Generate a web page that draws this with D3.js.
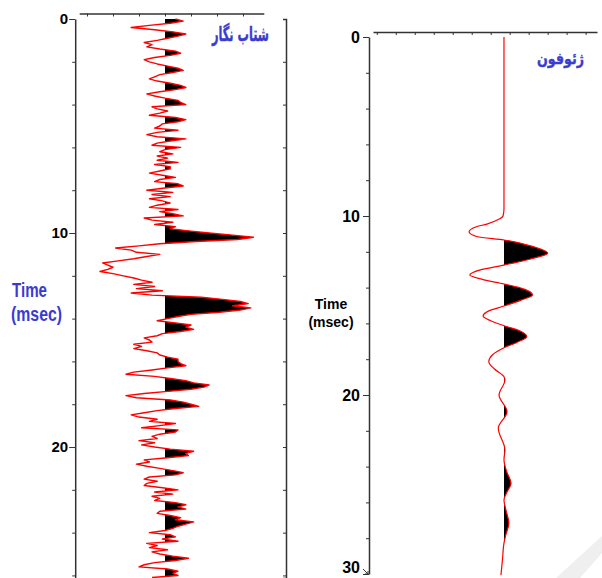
<!DOCTYPE html>
<html>
<head>
<meta charset="utf-8">
<script src="https://cdn.jsdelivr.net/npm/d3@7"></script>
<style>
    body { margin: 0; background: #fff; }
    #chart { width: 602px; height: 578px; }
</style>
</head>
<body>
<div id="chart"></div>
<script>
// accelerograph record: one sample every 0.1 msec, amplitude in counts (10 counts = one tick)
const accStep = 0.1;
const accAmp = [
    4, 7, 2, -6, -13, -4, 3, 8, 5, 1,
    -3, -8, -5, -7, -2, 4, 6, 2, -4, -8,
    -6, -3, 1, 5, 7, 3, -2, -4, -6, -3,
    2, 6, 8, 4, -2, -7, -4, 0, 5, 6,
    8, -5, -3, 1, -2, -6, 4, 8, 5, -1,
    -2, -4, 5, -3, -7, -3, 8, 2, -3, -5,
    6, 0, -2, 3, -3, 1, -3, 5, -4, 2,
    2, -2, -6, -1, 4, -2, -4, 5, 7, 0,
    -7, 3, -5, 2, -6, -1, 2, -3, -6, 5,
    -2, 3, 7, -8, -5, 3, -4, 4, 2, 9,
    17, 26, 34, 28, 12, -2, -10, -19, -13, -11,
    -2, -7, -12, -18, -24, -22, -20, -22, -25, -20,
    -16, -12, -9, -5, -12, -4, -11, -1, -13, -5,
    14, 22, 29, 32, 26, 33, 29, 21, 10, 5,
    1, -3, 4, 10, 8, 11, 6, -1, -3, -8,
    -6, -5, -12, -9, -12, -7, -3, -2, 1, 5,
    5, 6, 8, 1, -5, -12, -15, -4, 2, 8,
    11, 17, 15, 10, 1, -8, -15, -11, 2, 7,
    10, 13, 4, -3, -8, -13, -10, -3, -6, 4,
    -2, -9, 5, 4, -2, -5, -3, -10, -4, -9,
    -4, 2, 11, 8, 9, 1, -8, -6, -11, -7,
    -2, 3, 7, 4, -6, -8, -3, -7, -8, -1,
    5, -4, 3, -5, -2, -4, 4, 8, 5, 8,
    -2, -3, 2, 6, 4, 11, 8, 5, 3, 0,
    -6, 2, 4, -1, 5, -7, -3, -6, 1, -5,
    -2, 3, 9, 4, -4, -8, -10, 1, 5, 3,
    5, -5
];

// geophone record (msec, counts)
const geoTime = [0, 9.6, 10.0, 10.2, 10.45, 10.6, 10.88, 11.16, 11.34, 11.7, 12.08, 12.4, 12.74,
    13.0, 13.3, 13.55, 13.8, 14.1, 14.41, 14.7, 15.03, 15.3, 15.59, 15.85, 16.13, 16.45, 16.74,
    17.05, 17.36, 17.75, 18.14, 18.55, 18.98, 19.16, 20.0, 20.93, 21.86, 23.07, 23.6, 24.3,
    24.93, 25.5, 25.87, 26.5, 27.17, 27.8, 28.28, 29.2, 30.06];
const geoAmp = [0, 0, -0.5, -3, -9, -14.5, -18.4, -14, 0, 15, 23, 14, 0,
    -12, -18, -11, 0, 11, 15, 9, 0, -8, -11, -7, 0, 9, 12,
    7, 0, -6, -8, -5, 0, 0.5, -2.6, 1.6, -3, 0.5, 0, 1.5,
    3.7, 1.2, 0, 1.2, 2.6, 1, 0, -0.8, -1.6];

const accLabels = [0, 10, 20];
const geoLabels = [0, 10, 20, 30];
const accTitle = "شتاب نگار";
const geoTitle = "ژئوفون";
const axisTitle = ["Time", "(msec)"];

const svg = d3.select("#chart").append("svg")
    .attr("width", 602)
    .attr("height", 578);

// faint grey watermark corner from the scanned figure
svg.append("polygon")
    .attr("points", "556,578 602,536 602,553 580,578")
    .attr("fill", "#efefef");

class TraceVis {
    constructor(svg, config, data) {
        this.svg = svg;
        this.config = config;
        this.data = data;

        this.initVis();
    }

    initVis() {
        let vis = this;
        let c = vis.config;

        vis.g = vis.svg.append("g");

        vis.y = d3.scaleLinear().domain(c.timeDomain).range(c.yRange);
        vis.x = d3.scaleLinear().domain(c.ampDomain).range(c.xRange);
        vis.x0 = Math.round(vis.x(0));

        // time axis, labels only on the major ticks
        vis.yAxis = d3.axisLeft(vis.y)
            .tickValues(d3.range(0, c.timeDomain[1] + 0.01, 2))
            .tickSize(3)
            .tickSizeOuter(0)
            .tickPadding(c.labelPad)
            .tickFormat(d => c.labels.includes(d) ? d : "");

        vis.yAxisG = vis.g.append("g")
            .attr("transform", `translate(${c.xRange[0] - c.axisGap}, 0)`)
            .style("color", "#333")
            .call(vis.yAxis)
            .attr("font-family", "'Liberation Sans', Arial, sans-serif")
            .attr("font-size", c.labelSize)
            .attr("font-weight", "bold");
        vis.yAxisG.select(".domain").attr("stroke-width", 1.5);
        vis.yAxisG.selectAll(".tick text")
            .attr("fill", "#000")
            .attr("dy", d => d === c.timeDomain[1] ? "-0.1em" : "0.32em");
        vis.yAxisG.selectAll(".tick")
            .filter(d => c.labels.includes(d))
            .select("line")
            .attr("x2", -6);

        // amplitude axis along the top
        vis.xAxis = d3.axisBottom(vis.x)
            .tickValues(c.ampTicks)
            .tickSize(3)
            .tickSizeOuter(0)
            .tickFormat("");
        vis.xAxisG = vis.g.append("g")
            .attr("transform", `translate(0, ${c.topY})`)
            .style("color", "#333")
            .call(vis.xAxis);
        vis.xAxisG.select(".domain").attr("stroke-width", 1.5);

        // the positive half of the trace is filled black
        vis.clipId = "clip-" + c.name;
        vis.g.append("clipPath")
            .attr("id", vis.clipId)
            .append("rect")
            .attr("x", vis.x0)
            .attr("y", 0)
            .attr("width", c.xRange[1] - vis.x0)
            .attr("height", 578);

        vis.area = d3.area()
            .curve(c.curve)
            .y(d => vis.y(d.t))
            .x0(vis.x0)
            .x1(d => vis.x(d.a));

        vis.line = d3.line()
            .curve(c.curve)
            .x(d => vis.x(d.a))
            .y(d => vis.y(d.t));

        vis.g.append("path")
            .datum(vis.data)
            .attr("clip-path", `url(#${vis.clipId})`)
            .attr("fill", "#000")
            .attr("d", vis.area);

        vis.g.append("path")
            .datum(vis.data)
            .attr("fill", "none")
            .attr("stroke", "#ff0000")
            .attr("stroke-width", c.strokeWidth)
            .attr("stroke-linejoin", "round")
            .attr("d", vis.line);

        vis.g.append("text")
            .attr("x", c.titlePos[0] - c.titleWidth)
            .attr("y", c.titlePos[1])
            .attr("textLength", c.titleWidth)
            .attr("lengthAdjust", "spacingAndGlyphs")
            .attr("font-family", "'DejaVu Sans', sans-serif")
            .attr("font-weight", "bold")
            .attr("font-size", c.titleSize)
            .attr("fill", "#3b3bd0")
            .attr("stroke", "#3b3bd0")
            .attr("stroke-width", 0.4)
            .text(c.title);
    }
}

// left panel: accelerograph
let accVis = new TraceVis(svg, {
    name: "acc",
    timeDomain: [0, 26.12],
    yRange: [19, 578],
    ampDomain: [-33, 38],
    xRange: [79.2, 263.8],
    ampTicks: d3.range(-30, 31, 10),
    axisGap: 4,
    topY: 13.5,
    labels: accLabels,
    labelSize: 15,
    labelPad: 4,
    curve: d3.curveLinear,
    strokeWidth: 1.4,
    title: accTitle,
    titlePos: [269, 41],
    titleWidth: 57,
    titleSize: 20
}, accAmp.map((a, i) => ({t: i * accStep, a: a})));

// right-hand frame of the left panel
svg.append("g")
    .attr("transform", "translate(286, 0)")
    .style("color", "#333")
    .call(d3.axisLeft(accVis.y).tickValues(d3.range(0, 27, 2)).tickSize(3).tickSizeOuter(3).tickFormat(""))
    .select(".domain").attr("stroke-width", 1.5);

// right panel: geophone
let geoVis = new TraceVis(svg, {
    name: "geo",
    timeDomain: [0, 30],
    yRange: [37, 574],
    ampDomain: [-69, 49],
    xRange: [373, 597],
    ampTicks: d3.range(-67, 49, 10),
    axisGap: 4,
    topY: 32,
    labels: geoLabels,
    labelSize: 16,
    labelPad: 6,
    curve: d3.curveMonotoneY,
    strokeWidth: 1.2,
    title: geoTitle,
    titlePos: [584, 64],
    titleWidth: 47,
    titleSize: 16
}, geoTime.map((t, i) => ({t: t, a: geoAmp[i]})));

// small arrow head at the bottom of the geophone time axis
let arrowY = geoVis.y(30);
svg.append("path")
    .attr("d", `M${363},${arrowY - 5}L${368},${arrowY}M${368},${arrowY}l-3,0M${368},${arrowY}l0,-3`)
    .attr("stroke", "#333")
    .attr("stroke-width", 1)
    .attr("fill", "none");

// axis titles
svg.append("text")
    .attr("font-family", "'Liberation Sans', Arial, sans-serif")
    .attr("font-size", 20)
    .attr("font-weight", "bold")
    .attr("fill", "#3b3bd0")
    .selectAll("tspan")
    .data(axisTitle)
    .enter()
    .append("tspan")
    .attr("x", (d, i) => i === 0 ? 12 : 11)
    .attr("y", (d, i) => i === 0 ? 297 : 321)
    .attr("textLength", (d, i) => i === 0 ? 35 : 51)
    .attr("lengthAdjust", "spacingAndGlyphs")
    .text(d => d);

svg.append("text")
    .attr("font-family", "'Liberation Sans', Arial, sans-serif")
    .attr("font-size", 14)
    .attr("font-weight", "bold")
    .attr("text-anchor", "middle")
    .attr("fill", "#000")
    .selectAll("tspan")
    .data(axisTitle)
    .enter()
    .append("tspan")
    .attr("x", 331)
    .attr("y", (d, i) => i === 0 ? 309 : 327)
    .text(d => d);
</script>
</body>
</html>
